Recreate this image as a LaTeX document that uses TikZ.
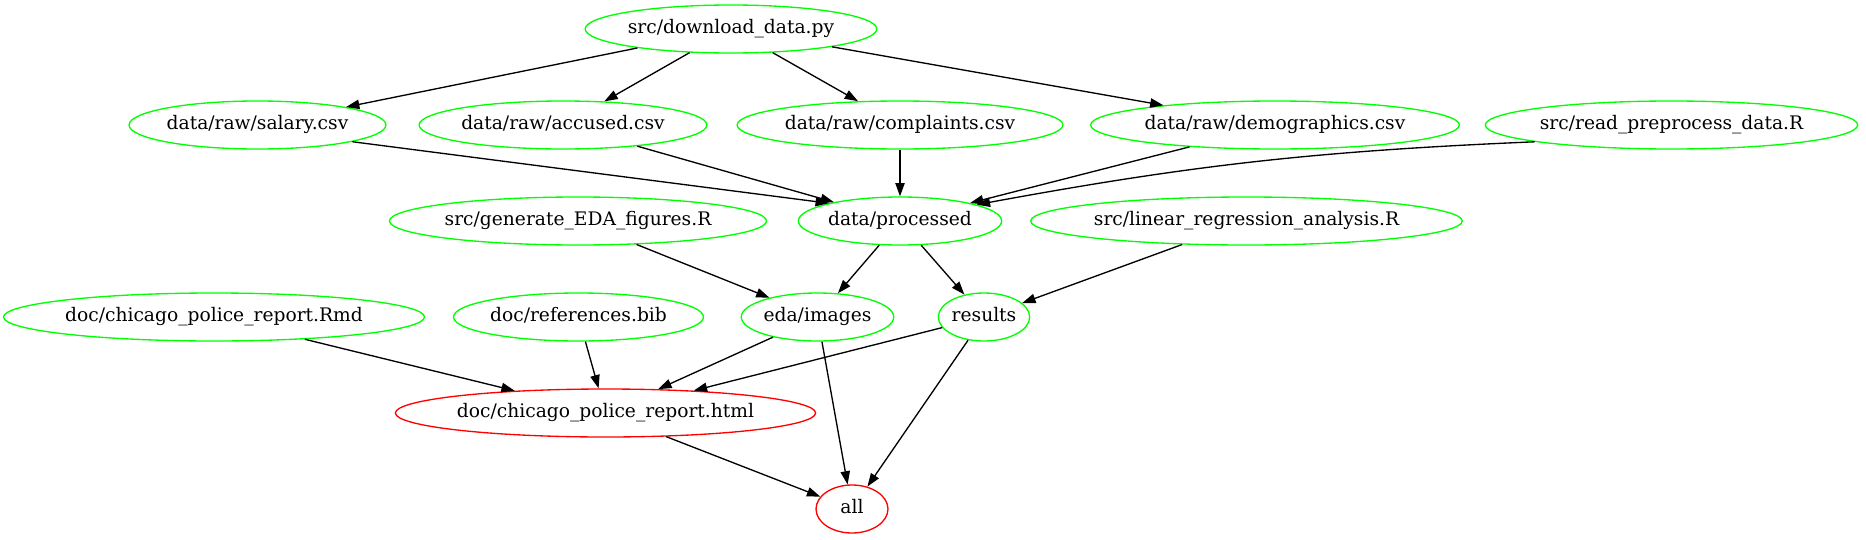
\documentclass[tikz,border=0pt]{standalone}
\usepackage{fontspec}
\setmainfont{DejaVu Serif}
\usetikzlibrary{arrows.meta,shapes.geometric}
\definecolor{gvgreen}{HTML}{00FF00}
\definecolor{gvred}{HTML}{FF0000}
\newlength\gvlen
\newcommand\gvfont{\fontsize{14}{16.8}\selectfont}
\newcommand\gvnode[5][gvg]{%
  \settowidth\gvlen{\gvfont #5}%
  \pgfmathsetmacro\gvw{max((\gvlen+15.84pt)*1.32,54)}%
  \node[#1, minimum width=\gvw pt] (#2) at (#3,#4) {#5};}
\begin{document}
\begin{tikzpicture}[x=0.75pt,y=-0.75pt,
  gvbase/.style={ellipse, minimum height=36pt, inner xsep=0pt, inner ysep=0pt,
    text height=9.9pt, text depth=2.5pt, font=\gvfont, line width=1pt},
  gvg/.style={gvbase, draw=gvgreen},
  gvr/.style={gvbase, draw=gvred},
  edge/.style={draw=black, line width=1pt, -{Triangle[length=10pt,width=7pt]}}]
\useasboundingbox (0,0) rectangle (1866,539);
\gvnode{dl}{731}{29}{src/download\_data.py}
\gvnode{sal}{257.5}{125}{data/raw/salary.csv}
\gvnode{acc}{563}{125}{data/raw/accused.csv}
\gvnode{cmp}{900}{125}{data/raw/complaints.csv}
\gvnode{dem}{1275}{125}{data/raw/demographics.csv}
\gvnode{rpp}{1671.5}{125}{src/read\_preprocess\_data.R}
\gvnode{gen}{578}{221}{src/generate\_EDA\_figures.R}
\gvnode{proc}{900}{221}{data/processed}
\gvnode{lin}{1246.5}{221}{src/linear\_regression\_analysis.R}
\gvnode{rmd}{214}{317}{doc/chicago\_police\_report.Rmd}
\gvnode{bib}{578.5}{317}{doc/references.bib}
\gvnode{img}{817.5}{317}{eda/images}
\gvnode{res}{984}{317}{results}
\gvnode[gvr]{html}{605.5}{413}{doc/chicago\_police\_report.html}
\gvnode[gvr]{all}{852}{509}{all}
\draw[edge] (dl) -- (sal);
\draw[edge] (dl) -- (acc);
\draw[edge] (dl) -- (cmp);
\draw[edge] (dl) -- (dem);
\draw[edge] (sal.-10) -- (proc.166.5);
\draw[edge] (acc) -- (proc);
\draw[edge] (cmp) -- (proc);
\draw[edge] (dem) -- (proc);
\draw[edge] (rpp.187) to[bend right=4] (proc.12);
\draw[edge] (gen) -- (img);
\draw[edge] (proc) -- (img);
\draw[edge] (proc) -- (res);
\draw[edge] (lin) -- (res);
\draw[edge] (rmd) -- (html);
\draw[edge] (bib) -- (html);
\draw[edge] (img) -- (html);
\draw[edge] (res) -- (html);
\draw[edge] (html) -- (all);
\draw[edge] (img) -- (all);
\draw[edge] (res) -- (all);
\end{tikzpicture}
\end{document}
